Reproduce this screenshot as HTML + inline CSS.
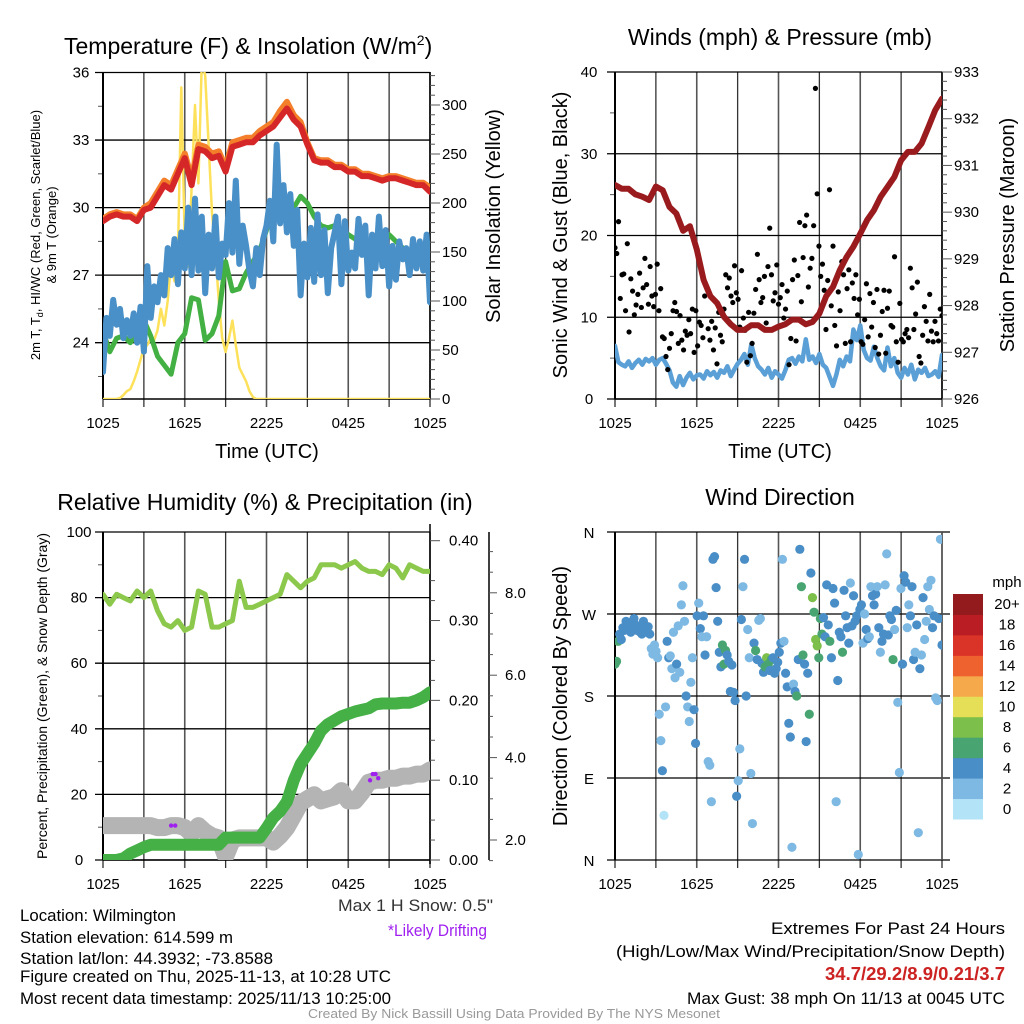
<!DOCTYPE html>
<html><head><meta charset="utf-8"><style>
html,body{margin:0;padding:0;background:#fff}
svg{display:block;font-family:"Liberation Sans",sans-serif}
</style></head><body>
<svg id="c" width="1024" height="1024" viewBox="0 0 1024 1024"></svg>
<script>
// ---------- data ----------
const xTickLabels=["1025","1625","2225","0425","1025"];
const tempRed=[29.4,29.6,29.7,29.6,29.6,29.4,29.9,30.0,30.5,31.0,30.8,31.5,32.2,31.0,32.6,32.5,32.2,32.3,31.6,32.7,32.8,32.9,32.9,33.2,33.4,33.6,34.0,34.4,33.9,33.6,32.8,32.1,32.0,32.0,31.8,31.8,31.6,31.6,31.4,31.4,31.3,31.2,31.3,31.3,31.2,31.1,31.0,31.0,30.7];
const tempOrange=[29.5,29.7,29.8,29.7,29.7,29.5,30.0,30.2,30.7,31.2,31.0,31.7,32.4,31.3,32.8,32.7,32.4,32.5,31.8,32.9,33.0,33.1,33.1,33.4,33.6,33.8,34.3,34.7,34.1,33.8,32.9,32.2,32.1,32.1,31.9,31.9,31.7,31.7,31.5,31.5,31.4,31.3,31.4,31.4,31.3,31.2,31.1,31.1,30.9];
const dewGreen=[24.5,23.6,24.2,24.3,24.0,24.4,25.0,24.3,23.4,23.0,22.6,24.0,24.4,26.0,25.9,24.1,24.4,25.2,27.6,26.3,26.4,27.1,27.6,28.1,29.0,30.0,29.8,29.8,30.0,30.5,30.2,29.6,29.2,29.1,29.2,29.0,28.8,28.6,28.5,28.3,28.4,28.7,28.8,28.5,28.2,28.0,28.2,28.3,28.4];
const windChill=[22.7,25.1,24.3,25.9,24.8,25.5,24.2,25.0,24.3,25.3,24.0,25.6,23.6,27.4,25.1,26.5,25.8,27.0,26.1,28.2,27.0,28.6,26.6,28.9,27.3,30.0,27.0,30.4,27.2,29.6,26.2,28.8,27.3,29.6,26.9,28.4,27.9,30.2,28.0,31.2,27.5,29.2,28.3,27.2,26.5,28.2,27.0,28.6,29.2,30.3,28.5,32.8,29.3,31.0,28.9,30.6,28.3,29.9,26.1,28.4,26.9,29.1,26.7,29.7,27.0,29.0,26.2,28.2,28.9,29.6,26.6,29.4,27.2,28.0,27.3,29.5,27.9,29.2,26.1,28.8,27.3,29.6,27.4,29.0,26.5,28.3,26.8,28.5,27.7,28.2,27.0,28.6,27.3,28.5,27.2,28.8,25.8];
const solar=[0,0,0,0,0,1,4,8,10,18,28,40,52,55,62,60,70,92,75,100,140,120,145,318,160,135,215,300,220,345,330,260,190,150,100,62,48,62,80,55,32,25,18,8,2,0,0,0,0,0,0,0,0,0,0,0,0,0,0,0,0,0,0,0,0,0,0,0,0,0,0,0,0,0,0,0,0,0,0,0,0,0,0,0,0,0,0,0,0,0,0,0,0,0,0,0,0];
const pressure=[930.58,930.5,930.5,930.38,930.33,930.26,930.55,930.47,930.11,929.97,929.6,929.7,929.2,928.55,928.2,928.05,927.76,927.6,927.48,927.48,927.58,927.58,927.48,927.48,927.55,927.6,927.7,927.7,927.6,927.65,927.83,928.2,928.4,928.76,929.04,929.26,929.54,929.83,930.04,930.33,930.54,930.75,931.11,931.29,931.29,931.47,931.82,932.18,932.43];
const windSpeed=[6.5,4.5,4.2,4.0,4.6,3.8,4.4,4.8,4.2,4.9,4.6,5.0,4.2,4.8,5.0,4.3,3.5,2.0,1.5,2.8,1.7,2.6,3.2,2.4,2.9,3.0,2.5,3.4,2.9,3.3,2.6,3.5,3.2,4.0,2.8,3.6,4.3,4.8,5.5,4.2,6.7,5.0,4.0,3.6,3.0,3.8,2.6,3.4,3.0,2.5,3.5,4.8,5.0,4.3,5.2,4.6,7.3,4.8,5.2,4.4,5.5,4.2,3.8,2.7,1.6,3.0,4.8,4.0,5.2,4.6,8.5,7.2,9.0,6.0,5.0,4.7,6.4,5.0,4.0,3.5,6.3,4.0,5.0,3.2,2.6,3.8,3.0,4.2,2.4,3.6,3.2,3.8,2.8,3.0,3.4,2.7,5.4];
const gusts=[18.5,17.8,21.7,12.3,15.2,15.3,10.8,19,8.2,14.7,13.2,10.3,11.5,12.8,15.4,11.2,13.6,17.2,14.0,11.6,16.2,12.6,11.3,12.8,16.5,10.8,13.5,7.6,7.4,5.2,
3.6,6.2,8.0,10.8,11.8,10.7,6.8,10.2,7.2,6.0,8.3,7.8,9.7,8.0,11.0,5.7,10.8,6.5,9.4,9.0,7.5,12.6,13.8,8.6,7.2,9.5,
6.0,8.7,4.3,10.6,7.8,7.0,11.0,15.2,13.6,14.8,12.6,11.8,16.3,13.0,12.2,8.8,15.7,9.9,8.4,4.5,
10.6,5.3,6.8,10.5,13.4,17.7,14.6,11.8,12.4,15.0,9.3,16.2,20.9,15.2,12.0,13.0,16.4,11.6,12.4,14.0,9.9,
11.0,13.2,4.2,7.4,14.6,17.0,7.1,15.1,21.6,11.9,17.3,21.2,22.5,13.7,16.0,17.2,21.2,38.0,25.1,18.7,15.0,16.5,13.3,8.5,14.5,
25.6,11.4,18.7,9.0,6.5,13.1,10.8,16.8,15.2,6.8,13.5,15.8,7.0,14.2,12.3,15.2,10.3,12.2,7.0,6.7,9.7,
14.1,7.6,12.9,8.8,11.8,6.3,13.4,5.5,7.8,10.7,13.3,5.6,11.1,13.2,9.0,8.8,17.4,7.0,4.5,11.7,7.3,7.0,
8.0,8.5,7.5,16.0,13.6,8.5,10.4,14.3,5.2,4.4,7.8,11.3,9.5,7.1,12.8,8.3,7.0,9.5,8.0,7.1,11.0,10.2];
const rh=[81,78,81,80,79,82,80,82,76,72,71,73,70,71,82,81,71,71,72,73,85,77,77,78,79,80,81,87,85,83,85,86,90,90,90,89,90,91,89,88,88,87,90,89,86,90,89,88,88];
const precip=[0,0,0,0.002,0.008,0.012,0.016,0.019,0.019,0.019,0.019,0.019,0.019,0.019,0.019,0.019,0.019,0.019,0.028,0.028,0.028,0.028,0.028,0.028,0.04,0.053,0.061,0.073,0.1,0.12,0.133,0.146,0.162,0.17,0.175,0.18,0.183,0.186,0.188,0.19,0.195,0.196,0.196,0.196,0.197,0.197,0.2,0.204,0.21];
const snowDepth=[2.35,2.35,2.35,2.35,2.35,2.35,2.35,2.35,2.3,2.3,2.35,2.35,2.3,2.15,2.35,2.2,2.1,2.05,1.6,2.0,2.05,2.05,2.05,2.05,2.05,1.95,2.1,2.3,2.6,2.9,3.0,3.1,2.95,3.0,3.05,3.2,2.95,2.95,3.15,3.4,3.45,3.45,3.5,3.5,3.55,3.55,3.6,3.6,3.7];
const driftTimes=[5.0,5.3,19.6,19.8,20.0,20.2];
const driftDepth=[2.35,2.35,3.45,3.6,3.6,3.5];
const windDir=[215,218,240,248,242,255,252,262,258,255,250,260,265,258,252,255,250,248,262,255,250,256,248,232,226,236,229,222,160,131,
98,49,168,240,222,224,210,250,200,215,257,206,280,301,262,180,168,152,195,222,165,128,268,282,254,245,
268,225,245,108,104,64,330,333,299,262,228,212,236,215,230,225,218,185,214,184,175,70,87,122,264,300,
330,180,253,222,95,40,238,230,220,263,265,216,206,212,222,215,208,220,222,205,210,217,228,238,
330,240,205,190,150,135,14,193,185,180,220,341,300,225,215,130,205,160,315,288,272,242,235,222,265,248,
266,245,302,258,240,222,298,282,64,197,250,245,228,296,268,255,238,304,257,290,262,268,6,275,280,238,
270,253,243,245,300,290,280,292,300,255,228,240,248,302,336,247,268,264,220,253,274,173,96,298,215,
312,305,255,280,268,300,220,228,258,30,210,225,288,242,262,300,275,307,255,268,178,175,265,352,236];
const windDirSpeed=[6,6,5,4,4,4,4,4,4,4,4,4,4,4,4,4,4,4,4,4,4,4,4,2,2,2,2,2,2,1,
3,0.5,2,4,3,2,2,2,2,3,2,2,2,2,2,4,2,2,2,2,4,4,3,2,4,2,
4,4,2,2,2,2,4,4,4,4,4,4,6,6,6,4,4,4,4,4,4,4,2,2,4,2,
4,4,2,2,2,2,4,6,4,2,2,4,4,6,8,6,4,6,4,4,4,4,4,4,
2,2,4,4,4,4,2,2,4,6,4,4,6,6,4,4,4,6,4,8,6,8,8,6,6,6,
4,4,4,4,6,4,4,4,2,4,4,4,6,4,4,4,4,2,4,4,4,4,2,4,4,2,
2,4,4,2,2,4,4,4,2,4,2,4,4,2,2,4,4,4,6,2,4,2,2,2,4,
4,4,2,2,4,4,4,2,4,2,4,2,4,2,2,2,2,2,4,4,2,2,4,2,4];
const speedColors=["#b3e3f7","#7db9e3","#4a8ec7","#48a571","#7cbf4a","#e5df57","#f5a94a","#ee6230","#da3428","#bb1d24","#931b1d"];
const speedLabels=["0","2","4","6","8","10","12","14","16","18","20+"];

// ---------- helpers ----------
const NS="http://www.w3.org/2000/svg";
const svg=document.getElementById('c');
function mk(tag,attrs,parent){const e=document.createElementNS(NS,tag);for(const k in attrs)e.setAttribute(k,attrs[k]);(parent||svg).appendChild(e);return e;}
function txt(s,x,y,size,anchor,parent,extra){const e=mk('text',Object.assign({x:x,y:y,'font-size':size,'text-anchor':anchor||'start',fill:'#000'},extra||{}),parent);e.textContent=s;return e;}
const L=103,R=430,L2=615,R2=942;
function xs(t,l,r){return l+t/24*(r-l);}
function tAt(i,n){return i*24/(n-1);}

function panelFrame(l,r,top,bot,name){
  const g=mk('g',{});
  
  
  for(let k=0;k<=8;k++){const x=xs(k*3,l,r);mk('line',{x1:x,y1:top,x2:x,y2:bot+8,stroke:k%2?'#333':'#555','stroke-width':k%2?1.3:1.6},g);}
  const lab=mk('g',{},g);
  
  
  xTickLabels.forEach((s,i)=>txt(s,xs(i*6,l,r),bot+29,15,'middle',lab));
  return g;
}
function hgrid(l,r,y,g){mk('line',{x1:l-8,y1:y,x2:r,y2:y,stroke:'#000','stroke-width':1.3},g);}
function poly(pts,attrs,name,parent){const e=mk('polyline',Object.assign({points:pts.map(p=>p[0].toFixed(1)+','+p[1].toFixed(1)).join(' '),fill:'none','stroke-linejoin':'round','stroke-linecap':'round'},attrs),parent);
  
  
  return e;}

const defs=mk('defs',{});
[['cp1',L,72,R,399],['cp2',L2,72,R2,399],['cp3',L,532,R,860],['cp4',L2,532,R2,860]].forEach(a=>{const c=mk('clipPath',{id:a[0]},defs);mk('rect',{x:a[1],y:a[2],width:a[3]-a[1],height:a[4]-a[2]},c);});

// ================= Panel 1 =================
{
const top=72,bot=399;
const yT=v=>342.7-(v-24)*(67.55/3);
const yS=v=>399-v*0.98;
const g=panelFrame(L,R,top,bot,'temperature-panel');
[24,27,30,33,36].forEach(v=>{hgrid(L,R,yT(v),g);txt(String(v),L-22,yT(v)+5,15,'middle',g);});
[22.5,25.5,28.5,31.5,34.5].forEach(v=>mk('line',{x1:L-5,y1:yT(v),x2:L,y2:yT(v),stroke:'#555','stroke-width':1},g));
mk('line',{x1:L,y1:top,x2:L,y2:bot,stroke:'#000','stroke-width':2},g);
mk('line',{x1:R,y1:top,x2:R,y2:bot,stroke:'#000','stroke-width':1.5},g);
mk('line',{x1:L,y1:bot,x2:R,y2:bot,stroke:'#000','stroke-width':1.5},g);
for(let v=0;v<=330;v+=10){const y=yS(v);mk('line',{x1:R,y1:y,x2:R+(v%50==0?10:5),y2:y,stroke:'#555','stroke-width':1},g);}
[0,50,100,150,200,250,300].forEach(v=>txt(String(v),R+12,yS(v)+5,15,'start',g));
const cg=mk('g',{'clip-path':'url(#cp1)'},g);
poly(solar.map((v,i)=>[xs(tAt(i,solar.length),L,R),yS(v)]),{stroke:'#fde15a','stroke-width':2.5},'solar-insolation-line',cg);
poly(dewGreen.map((v,i)=>[xs(tAt(i,dewGreen.length),L,R),yT(v)]),{stroke:'#43b043','stroke-width':5},'dewpoint-line',cg);
poly(tempOrange.map((v,i)=>[xs(tAt(i,tempOrange.length),L,R),yT(v)]),{stroke:'#f47f2a','stroke-width':6},'9m-temp-line',cg);
poly(tempRed.map((v,i)=>[xs(tAt(i,tempRed.length),L,R),yT(v)]),{stroke:'#d62728','stroke-width':6},'2m-temp-line',cg);
poly(windChill.map((v,i)=>[xs(tAt(i,windChill.length),L,R),yT(v)]),{stroke:'#4a90c8','stroke-width':6},'wind-chill-line',cg);
const t1=txt('Temperature (F) & Insolation (W/m',64,54,23,'start',g);
const sup=mk('tspan',{dy:-9,'font-size':14},t1);sup.textContent='2';
const cl=mk('tspan',{dy:9},t1);cl.textContent=')';


const yl=mk('text',{transform:'translate(40,235) rotate(-90)','font-size':13,'text-anchor':'middle'},g);


const a1=mk('tspan',{x:0,y:0},yl);a1.textContent='2m T, T';const sb=mk('tspan',{'font-size':9,dy:3},yl);sb.textContent='d';const a2=mk('tspan',{dy:-3},yl);a2.textContent=', HI/WC (Red, Green, Scarlet/Blue)';
const a3=mk('tspan',{x:0,y:16},yl);a3.textContent='& 9m T (Orange)';
const yr=txt('Solar Insolation (Yellow)',0,0,20,'middle',g,{transform:'translate(500,216) rotate(-90)'});


const xt=txt('Time (UTC)',267,458,20,'middle',g);


}

// ================= Panel 2 =================
{
const top=72,bot=399;
const yW=v=>399-v*(327/40);
const yP=v=>399-(v-926)*(327/7);
const g=panelFrame(L2,R2,top,bot,'winds-panel');
[0,10,20,30,40].forEach(v=>{hgrid(L2,R2,yW(v),g);txt(String(v),L2-26,yW(v)+5,15,'middle',g);});
[5,15,25,35].forEach(v=>mk('line',{x1:L2-5,y1:yW(v),x2:L2,y2:yW(v),stroke:'#555','stroke-width':1},g));
mk('line',{x1:L2,y1:top,x2:L2,y2:bot,stroke:'#000','stroke-width':2},g);
mk('line',{x1:R2,y1:top,x2:R2,y2:bot,stroke:'#000','stroke-width':1.5},g);
mk('line',{x1:L2,y1:bot,x2:R2,y2:bot,stroke:'#000','stroke-width':1.5},g);
for(let v=926;v<=933.001;v+=0.2){const y=yP(v);const maj=Math.abs(v-Math.round(v))<0.01;mk('line',{x1:R2,y1:y,x2:R2+(maj?10:5),y2:y,stroke:'#555','stroke-width':1},g);}
[926,927,928,929,930,931,932,933].forEach(v=>txt(String(v),R2+12,yP(v)+5,15,'start',g));
const cg=mk('g',{'clip-path':'url(#cp2)'},g);
poly(windSpeed.map((v,i)=>[xs(tAt(i,windSpeed.length),L2,R2),yW(v)]),{stroke:'#5a9fd6','stroke-width':4.5},'sonic-wind-line',cg);
const gg=mk('g',{},cg);


gusts.forEach((v,i)=>{const c=mk('circle',{cx:xs(tAt(i,gusts.length),L2,R2),cy:yW(v),r:2.6,fill:'#000'},gg);

});
poly(pressure.map((v,i)=>[xs(tAt(i,pressure.length),L2,R2),yP(v)]),{stroke:'#9a1b1e','stroke-width':6},'pressure-line',cg);
const t=txt('Winds (mph) & Pressure (mb)',780,45,23,'middle',g);


const yl=txt('Sonic Wind & Gust (Blue, Black)',0,0,20,'middle',g,{transform:'translate(567,235) rotate(-90)'});


const yr=txt('Station Pressure (Maroon)',0,0,20,'middle',g,{transform:'translate(1014,235) rotate(-90)'});


const xt=txt('Time (UTC)',780,458,20,'middle',g);


}

// ================= Panel 3 =================
{
const top=532,bot=860;
const yPc=v=>860-v*3.28;
const yIn=v=>860-v*(319.3/0.4);
const ySn=v=>840-(v-2)*41.2;
const g=panelFrame(L,R,top,bot,'humidity-panel');
[0,20,40,60,80,100].forEach(v=>{hgrid(L,R,yPc(v),g);txt(String(v),L-24,yPc(v)+5,15,'middle',g);});
[10,30,50,70,90].forEach(v=>mk('line',{x1:L-5,y1:yPc(v),x2:L,y2:yPc(v),stroke:'#555','stroke-width':1},g));
mk('line',{x1:L,y1:top,x2:L,y2:bot,stroke:'#000','stroke-width':2},g);
mk('line',{x1:R,y1:524,x2:R,y2:864,stroke:'#000','stroke-width':1.5},g);
mk('line',{x1:L,y1:bot,x2:R,y2:bot,stroke:'#000','stroke-width':1.5},g);
for(let k=0;k<=8;k++){const v=k*0.05;mk('line',{x1:R,y1:yIn(v),x2:R+(k%2==0?10:5),y2:yIn(v),stroke:'#555','stroke-width':1},g);}
for(let k=0;k<4;k++){const v=0.025+k*0.1;mk('line',{x1:R,y1:yIn(v),x2:R+5,y2:yIn(v),stroke:'#555','stroke-width':1},g);}
["0.00","0.10","0.20","0.30","0.40"].forEach((s,i)=>txt(s,449,yIn(i*0.1)+5,15,'start',g));
mk('line',{x1:489,y1:532,x2:489,y2:860,stroke:'#000','stroke-width':1.5},g);
for(let v=1.5;v<=9.2;v+=0.5){const maj=Math.abs(v%2)<0.01;mk('line',{x1:489,y1:ySn(v),x2:489+(maj?8:4),y2:ySn(v),stroke:'#555','stroke-width':1},g);}
["2.0","4.0","6.0","8.0"].forEach((s,i)=>txt(s,505,ySn(2+2*i)+5,15,'start',g));
const cg=mk('g',{'clip-path':'url(#cp3)'},g);
poly(snowDepth.map((v,i)=>[xs(tAt(i,snowDepth.length),L,R),ySn(v)]),{stroke:'#b4b4b4','stroke-width':17},'snow-depth-line',cg);
poly(precip.map((v,i)=>[xs(tAt(i,precip.length),L,R),yIn(v)]),{stroke:'#45b045','stroke-width':12},'precipitation-line',cg);
poly(rh.map((v,i)=>[xs(tAt(i,rh.length),L,R),yPc(v)]),{stroke:'#8cc84b','stroke-width':5},'relative-humidity-line',cg);
const dg=mk('g',{},cg);


driftTimes.forEach((t,i)=>{const c=mk('circle',{cx:xs(t,L,R),cy:ySn(driftDepth[i]),r:2.2,fill:'#a020f0'},dg);

});
const t=txt('Relative Humidity (%) & Precipitation (in)',265,510,23,'middle',g);


const yl=txt('Percent, Precipitation (Green), & Snow Depth (Gray)',0,0,14,'middle',g,{transform:'translate(47,696) rotate(-90)'});


}

// ================= Panel 4 =================
{
const top=532,bot=860;
const yD=v=>860-v/360*328;
const g=panelFrame(L2,R2,top,bot,'wind-direction-panel');
[['N',0],['E',90],['S',180],['W',270],['N',360]].forEach(a=>{hgrid(L2,R2+8,yD(a[1]),g);txt(a[0],L2-26,yD(a[1])+6,15,'middle',g);});
mk('line',{x1:L2,y1:top,x2:L2,y2:bot,stroke:'#000','stroke-width':2},g);
mk('line',{x1:R2,y1:top,x2:R2,y2:bot,stroke:'#555','stroke-width':1.5},g);
const cg=mk('g',{'clip-path':'url(#cp4)'},g);
windDir.forEach((d,i)=>{const s=windDirSpeed[i];const idx=Math.min(10,Math.round(s/2));
const c=mk('circle',{cx:xs(tAt(i,windDir.length),L2,R2),cy:yD(d),r:4.6,fill:speedColors[idx]},cg);

});
const t=txt('Wind Direction',780,505,23,'middle',g);


const yl=txt('Direction (Colored By Speed)',0,0,20,'middle',g,{transform:'translate(567,696) rotate(-90)'});


const cb=mk('g',{},g);


const bh=225/11;
speedColors.forEach((c,i)=>{const y=594+(10-i)*bh;
mk('rect',{x:953,y:y,width:30,height:bh+0.5,fill:c},cb);
txt(speedLabels[i],1007,y+bh/2+5,15,'middle',cb);});
txt('mph',1007,587,15,'middle',cb);
}

// ================= Footer text =================
{
const g=mk('g',{});


const cond=(s,x,y,w,anchor,color,size,weight)=>{const e=txt(s,x,y,size||17,anchor,g,{textLength:w,lengthAdjust:'spacingAndGlyphs',fill:color||'#000','font-weight':weight||'normal'});return e;};
cond('Location: Wilmington',20,921,156);
cond('Station elevation: 614.599 m',20,943,213);
cond('Station lat/lon: 44.3932; -73.8588',20,964,253);
cond('Figure created on Thu, 2025-11-13, at 10:28 UTC',20,982,371);
cond('Most recent data timestamp: 2025/11/13 10:25:00',20,1004,371);
cond('Max 1 H Snow: 0.5"',493,911,155,'end','#333');
cond('*Likely Drifting',487,936,99,'end','#a020f0');
cond('Extremes For Past 24 Hours',1005,934,234,'end');
cond('(High/Low/Max Wind/Precipitation/Snow Depth)',1005,957,389,'end');
cond('34.7/29.2/8.9/0.21/3.7',1005,980,180,'end','#cc2222',18,'bold');
cond('Max Gust: 38 mph On 11/13 at 0045 UTC',1005,1004,318,'end');
cond('Created By Nick Bassill Using Data Provided By The NYS Mesonet',308,1018,412,'start','#999',13);
}
</script>
</body></html>
